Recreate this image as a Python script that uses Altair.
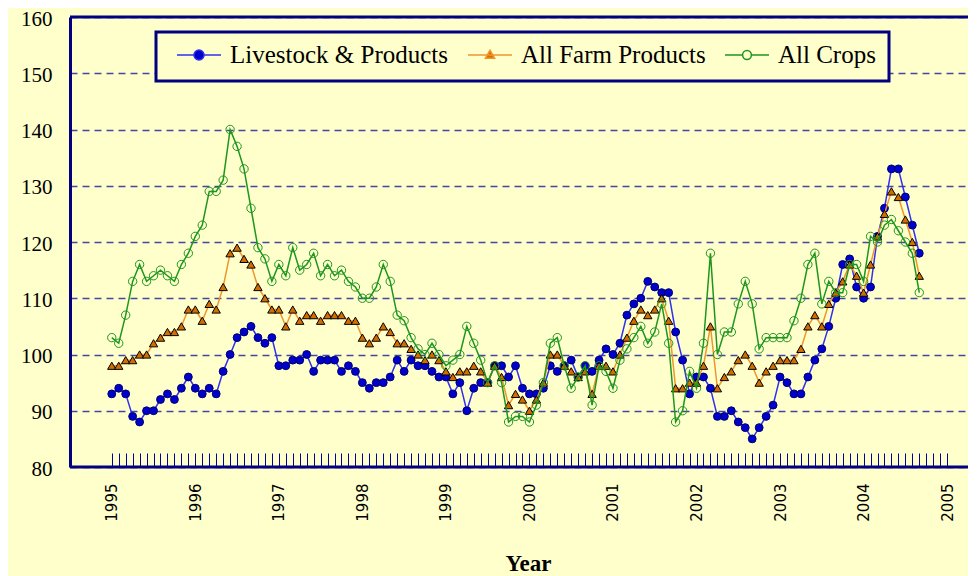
import altair as alt
import pandas as pd

# ---------------- data (monthly index values, Jan 1995 onward) ----------------
start_year = 1995
series_names = ["Livestock & Products", "All Farm Products", "All Crops"]

livestock = [93, 94, 93, 89, 88, 90, 90, 92, 93, 92, 94, 96,
             94, 93, 94, 93, 97, 100, 103, 104, 105, 103, 102, 103,
             98, 98, 99, 99, 100, 97, 99, 99, 99, 97, 98, 97,
             95, 94, 95, 95, 96, 99, 97, 99, 98, 98, 97, 96,
             96, 93, 95, 90, 94, 95, 95, 98, 98, 96, 98, 94,
             93, 93, 94, 98, 97, 98, 99, 96, 98, 97, 99, 101,
             100, 102, 107, 109, 110, 113, 112, 111, 111, 104, 99, 93,
             96, 96, 94, 89, 89, 90, 88, 87, 85, 87, 89, 91,
             96, 95, 93, 93, 96, 99, 101, 105, 110, 116, 117, 112,
             110, 112, 121, 126, 133, 133, 128, 123, 118]

farm = [98, 98, 99, 99, 100, 100, 102, 103, 104, 104, 105, 108,
        108, 106, 109, 108, 112, 118, 119, 117, 116, 112, 110, 108,
        108, 105, 108, 106, 107, 107, 106, 107, 107, 107, 106, 106,
        103, 102, 103, 105, 104, 102, 102, 101, 100, 99, 100, 99,
        97, 96, 97, 97, 98, 97, 95, 98, 96, 91, 93, 92,
        90, 92, 95, 100, 100, 98, 97, 96, 97, 93, 98, 98,
        97, 100, 103, 106, 108, 107, 108, 110, 106, 94, 94, 95,
        95, 98, 105, 94, 96, 97, 99, 100, 98, 95, 97, 98,
        99, 99, 99, 101, 105, 107, 105, 109, 111, 113, 116, 114,
        111, 116, 121, 125, 129, 128, 124, 120, 114]

crops = [103, 102, 107, 113, 116, 113, 114, 115, 114, 113, 116, 118,
         121, 123, 129, 129, 131, 140, 137, 133, 126, 119, 117, 113,
         116, 114, 119, 115, 116, 118, 114, 116, 114, 115, 113, 112,
         110, 110, 112, 116, 113, 107, 106, 103, 101, 100, 102, 100,
         98, 99, 100, 105, 102, 99, 95, 98, 95, 88, 89, 89,
         88, 91, 95, 102, 103, 98, 94, 96, 98, 91, 98, 97,
         94, 99, 101, 103, 105, 102, 104, 109, 102, 88, 90, 97,
         94, 102, 118, 100, 104, 104, 109, 113, 109, 101, 103, 103,
         103, 103, 106, 110, 116, 118, 109, 113, 111, 111, 116, 116,
         113, 121, 120, 123, 124, 122, 120, 118, 111]

y_ticks = [80, 90, 100, 110, 120, 130, 140, 150, 160]
last_year = 2005

# ---------------- styles ----------------
bg = "#FFFFCC"
navy = "#000080"
line_colors = ["#3030F0", "#F0962A", "#1E961E"]
marker_fill = ["#0000CC", "#D26E00", "transparent"]
marker_stroke = ["#000070", "#000000", "#1E961E"]
marker_shape = ["circle", "triangle-up", "circle"]
marker_size = [62, 70, 70]
marker_filled = [True, True, False]
legend_paths = [
    "M-1,0L-0.23,0M0.23,0L1,0M0.23,0A0.23,0.23,0,1,1,-0.23,0A0.23,0.23,0,1,1,0.23,0Z",
    "M-1,0L1,0M0,-0.22L0.21,0.15L-0.21,0.15Z",
    "M-1,0L-0.2,0M0.2,0L1,0M0.2,0A0.2,0.2,0,1,1,-0.2,0A0.2,0.2,0,1,1,0.2,0Z",
]

rows = []
for name, vals in zip(series_names, [livestock, farm, crops]):
    for i, v in enumerate(vals):
        rows.append({"month": i, "value": v, "series": name})
df = pd.DataFrame(rows)

month_ticks = list(range(0, (last_year - start_year) * 12 + 1))

x_enc = alt.X(
    "month:Q",
    scale=alt.Scale(domain=[-6, 123], nice=False, zero=False),
    axis=alt.Axis(
        values=month_ticks,
        labelExpr=f"datum.value % 12 == 0 ? toString({start_year} + datum.value / 12) : ''",
        offset=-14, tickSize=14, tickColor="#0000AA", tickWidth=1,
        domain=False, grid=False,
        labelAngle=270, labelPadding=16, labelFont="DejaVu Sans", labelFontSize=15,
        labelColor="black", labelOverlap=False, labelFlush=False,
        title="Year", titleFont="Liberation Serif", titleFontSize=23,
        titleFontWeight="bold", titleColor="black",
        titleX=458, titleY=117, titleBaseline="alphabetic", titleAlign="center",
    ),
)
y_enc = alt.Y(
    "value:Q",
    scale=alt.Scale(domain=[80, 160], nice=False, zero=False),
    axis=alt.Axis(
        values=y_ticks, ticks=False, tickSize=0, labelPadding=18, labelOffset=2,
        labelFont="Liberation Serif", labelFontSize=21, labelColor="black",
        domain=True, domainColor=navy, domainWidth=3,
        grid=True, gridColor="#4646A0", gridDash=[7, 5], gridWidth=1.5,
        title=None,
    ),
)

layers = []
for k, name in enumerate(series_names):
    sub = alt.Chart(df).transform_filter(alt.datum.series == name)
    layers.append(sub.mark_line(color=line_colors[k], strokeWidth=1.5).encode(x=x_enc, y=y_enc))
    layers.append(
        sub.mark_point(
            shape=marker_shape[k], size=marker_size[k], filled=marker_filled[k],
            fill=marker_fill[k], stroke=marker_stroke[k], strokeWidth=1, opacity=1,
        ).encode(x=x_enc, y=y_enc)
    )

leg = alt.Legend(
    title=None, orient="none", legendX=86, legendY=15, direction="horizontal",
    columns=3, symbolSize=1936, symbolStrokeWidth=1.5, symbolOffset=7,
    labelOffset=8, labelFont="Liberation Serif", labelFontSize=25, labelColor="black",
    labelLimit=400, clipHeight=20, columnPadding=11, padding=13,
    strokeColor=navy, fillColor=bg,
)
legend_layer = alt.Chart(df).transform_filter("false").mark_point(
    opacity=1, strokeWidth=1.5
).encode(
    x=x_enc, y=y_enc,
    stroke=alt.Stroke("series:N", scale=alt.Scale(domain=series_names, range=line_colors), legend=leg),
    fill=alt.Fill("series:N", scale=alt.Scale(domain=series_names, range=marker_fill), legend=leg),
    shape=alt.Shape("series:N", scale=alt.Scale(domain=series_names, range=legend_paths), legend=leg),
)

border = alt.Chart(pd.DataFrame({"value": [y_ticks[0], y_ticks[-1]]})).mark_rule(
    color=navy, strokeWidth=3
).encode(y="value:Q")

chart = alt.layer(*layers, border, legend_layer).properties(
    width=898, height=450,
    autosize=alt.AutoSizeParams(type="none"),
    padding={"left": 62, "top": 9, "right": 0, "bottom": 109},
    background=bg,
).configure_view(stroke=None).configure_legend(strokeWidth=3)

chart.save("out.html", embed_options={"renderer": "svg", "actions": False})
